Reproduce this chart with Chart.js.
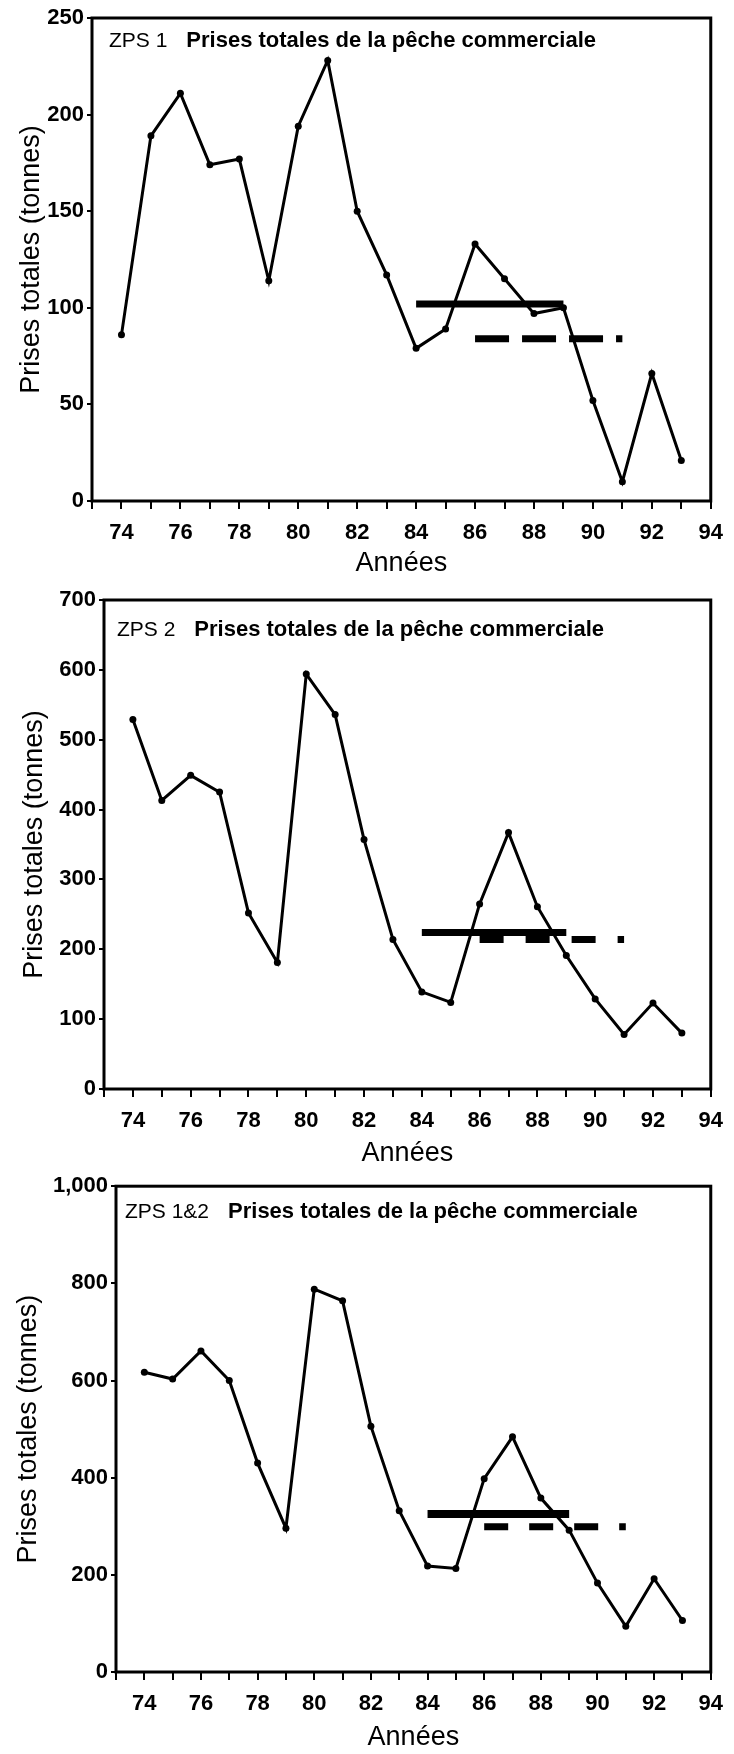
<!DOCTYPE html>
<html>
<head>
<meta charset="utf-8">
<script src="https://cdn.jsdelivr.net/npm/chart.js"></script>
<style>
  html, body { margin: 0; padding: 0; background: #fff; }
  body { width: 734px; height: 1754px; position: relative; overflow: hidden; }
  canvas { position: absolute; left: 0; }
</style>
</head>
<body>
<canvas id="zps1" width="734" height="580" style="top:0px"></canvas>
<canvas id="zps2" width="734" height="590" style="top:580px"></canvas>
<canvas id="zps12" width="734" height="584" style="top:1170px"></canvas>
<script>
// années (axe des x)
const years = [74, 75, 76, 77, 78, 79, 80, 81, 82, 83, 84, 85, 86, 87, 88, 89, 90, 91, 92, 93];

// prises totales (tonnes)
const zps1 = [86, 189, 211, 174, 177, 114, 194, 228, 150, 117, 79, 89, 133, 115, 97, 100, 52, 10, 66, 21];
const zps2 = [529, 413, 449, 425, 252, 181, 594, 536, 357, 214, 139, 124, 265, 367, 261, 191, 129, 78, 123, 80];
const zps12 = [617, 603, 661, 600, 430, 296, 788, 764, 506, 332, 218, 213, 398, 484, 358, 292, 183, 94, 192, 106];

// moyennes : trait plein 84-89, tirets 86-91
const spanSolid = [84, 89];
const spanDashed = [86, 91];
const mean1 = [102, 84];
const mean2 = [224, 214];
const mean12 = [325, 299];

// axes
const xTicks = [73, 94];
const yMax1 = 250, yStep1 = 50;
const yMax2 = 700, yStep2 = 100;
const yMax12 = 1000, yStep12 = 200;

const FONT = '"Liberation Sans", Arial, Helvetica, sans-serif';
Chart.defaults.font.family = FONT;
Chart.defaults.color = '#000';

// cadre + titre dans le graphique
const frame = {
  id: 'frame',
  afterDraw(chart, args, opts) {
    const {ctx, chartArea: a} = chart;
    ctx.save();
    ctx.lineWidth = 3;
    ctx.strokeStyle = '#000';
    ctx.strokeRect(a.left, a.top, a.right - a.left, a.bottom - a.top);
    ctx.fillStyle = '#000';
    ctx.textBaseline = 'middle';
    ctx.font = '21px ' + FONT;
    ctx.fillText(opts.zone, a.left + opts.dx, a.top + opts.dy);
    const w = ctx.measureText(opts.zone).width;
    ctx.font = 'bold 22px ' + FONT;
    ctx.fillText('Prises totales de la pêche commerciale', a.left + opts.dx + w + 19, a.top + opts.dy);
    ctx.restore();
  }
};

function makeChart(id, values, means, yMax, yStep, box) {
  const H = document.getElementById(id).height;
  return new Chart(document.getElementById(id), {
    type: 'line',
    data: {
      datasets: [
        {
          data: years.map((y, i) => ({x: y, y: values[i]})),
          borderColor: '#000',
          borderWidth: 3,
          pointRadius: 3.5,
          pointBackgroundColor: '#000',
          pointBorderWidth: 0,
          tension: 0
        },
        {
          data: spanSolid.map(x => ({x: x, y: means[0]})),
          borderColor: '#000',
          borderWidth: box.thick,
          borderCapStyle: 'butt',
          pointRadius: 0
        },
        {
          data: spanDashed.map(x => ({x: x, y: means[1]})),
          borderColor: '#000',
          borderWidth: 7,
          borderCapStyle: 'butt',
          borderDash: box.dash,
          pointRadius: 0
        }
      ]
    },
    options: {
      responsive: false,
      animation: false,
      events: [],
      layout: {
        padding: {top: box.top, right: 734 - box.right, left: 0, bottom: 0}
      },
      plugins: {
        legend: {display: false},
        tooltip: {enabled: false},
        frame: {zone: box.zone, dx: box.dx, dy: box.dy}
      },
      scales: {
        x: {
          type: 'linear',
          min: xTicks[0],
          max: xTicks[1],
          ticks: {
            stepSize: 1,
            autoSkip: false,
            maxRotation: 0,
            padding: 11,
            font: {size: 22, weight: 'bold'},
            callback: v => (v % 2 === 0 ? String(v) : '')
          },
          grid: {drawOnChartArea: false, tickLength: 8, color: '#000', lineWidth: 2},
          border: {display: false},
          title: {display: true, text: 'Années', font: {size: 27}, padding: {top: 0, bottom: 0}},
          afterFit: s => { s.height = H - box.bottom; }
        },
        y: {
          min: 0,
          max: yMax,
          ticks: {stepSize: yStep, padding: 3, font: {size: 22, weight: 'bold'}},
          grid: {drawOnChartArea: false, tickLength: 5, color: '#000', lineWidth: 2},
          border: {display: false},
          title: {display: true, text: 'Prises totales (tonnes)', font: {size: 27}, padding: {top: box.ty, bottom: 0}},
          afterFit: s => { s.width = box.left; }
        }
      }
    },
    plugins: [frame]
  });
}

makeChart('zps1', zps1, mean1, yMax1, yStep1,
  {left: 92, right: 717, top: 18, bottom: 501, dx: 17, dy: 23, ty: 15, zone: 'ZPS 1', dash: [34, 13], thick: 7});
makeChart('zps2', zps2, mean2, yMax2, yStep2,
  {left: 104, right: 722, top: 20, bottom: 509, dx: 13, dy: 30, ty: 18, zone: 'ZPS 2', dash: [24, 22], thick: 7});
makeChart('zps12', zps12, mean12, yMax12, yStep12,
  {left: 116, right: 722, top: 15, bottom: 502, dx: 9, dy: 26, ty: 12, zone: 'ZPS 1&2', dash: [24, 21], thick: 8});
</script>
</body>
</html>
